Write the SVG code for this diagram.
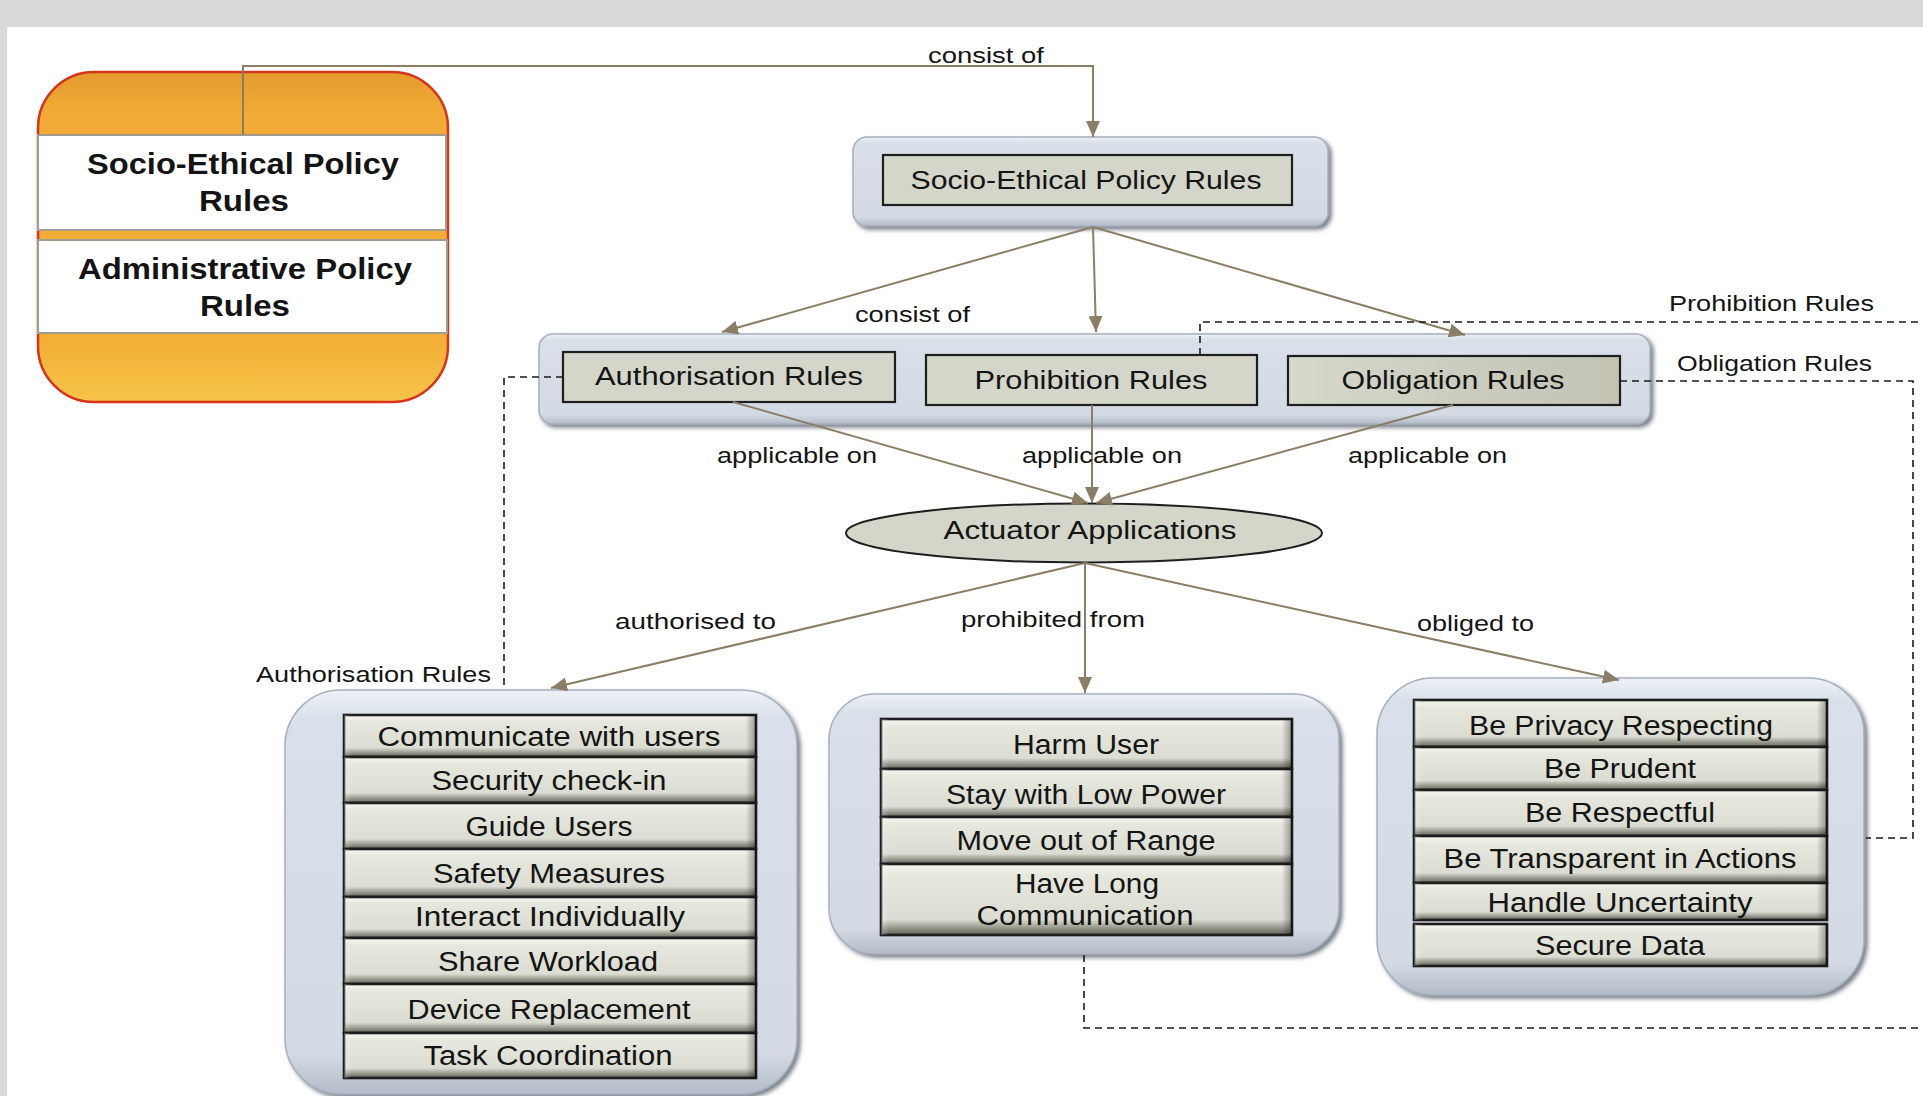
<svg xmlns="http://www.w3.org/2000/svg" width="1923" height="1096" viewBox="0 0 1923 1096">
<defs>
<style>
.t{font-family:"Liberation Sans",Arial,Helvetica,sans-serif;fill:#141414}
.row{font-size:27px;text-anchor:middle}
.ttl{font-size:26px;text-anchor:middle}
.lbl{font-size:22px}
.leg{font-size:29px;font-weight:bold;text-anchor:middle}
.box{fill:url(#boxG);stroke:#a7b0bd;stroke-width:1.5;filter:url(#sh)}
.inner{fill:#d4d6ca;stroke:#1e1e1e;stroke-width:2.2}
.r{fill:url(#rowV);stroke:#1c1c1c;stroke-width:2.6}
.rh{fill:url(#rowH);stroke:none}
.con{fill:none;stroke:#8b7e66;stroke-width:2;marker-end:url(#ah)}
.dash{fill:none;stroke:#1a1a1a;stroke-width:1.6;stroke-dasharray:7 5}
</style>
<marker id="ah" markerUnits="userSpaceOnUse" markerWidth="16" markerHeight="14" refX="16" refY="7" orient="auto">
<path d="M0,0 L16,7 L0,14 z" fill="#8b7e66"/>
</marker>
<linearGradient id="boxG" x1="0" y1="0" x2="0" y2="1">
<stop offset="0" stop-color="#eef2f7"/>
<stop offset="0.07" stop-color="#d9e0e9"/>
<stop offset="0.9" stop-color="#d3dae4"/>
<stop offset="1" stop-color="#b3bcc8"/>
</linearGradient>
<linearGradient id="rowV" x1="0" y1="0" x2="0" y2="1">
<stop offset="0" stop-color="#f7f7f1"/>
<stop offset="0.16" stop-color="#e6e7dd"/>
<stop offset="0.78" stop-color="#dcddd2"/>
<stop offset="0.88" stop-color="#a2a397"/>
<stop offset="1" stop-color="#5f6057"/>
</linearGradient>
<linearGradient id="rowH" x1="0" y1="0" x2="1" y2="0">
<stop offset="0" stop-color="#ffffff" stop-opacity="0.25"/>
<stop offset="0.02" stop-color="#ffffff" stop-opacity="0"/>
<stop offset="0.975" stop-color="#000000" stop-opacity="0"/>
<stop offset="1" stop-color="#000000" stop-opacity="0.35"/>
</linearGradient>
<linearGradient id="oblG" x1="0" y1="0" x2="1" y2="0">
<stop offset="0" stop-color="#d6d8cc"/>
<stop offset="1" stop-color="#c2c3b3"/>
</linearGradient>
<linearGradient id="orG" x1="0" y1="0" x2="0" y2="1">
<stop offset="0" stop-color="#e39b2e"/>
<stop offset="0.12" stop-color="#f1ab36"/>
<stop offset="0.8" stop-color="#f3ae37"/>
<stop offset="1" stop-color="#f7c449"/>
</linearGradient>
<filter id="sh" x="-5%" y="-5%" width="110%" height="115%">
<feGaussianBlur in="SourceAlpha" stdDeviation="2"/>
<feOffset dx="3" dy="3" result="o"/>
<feFlood flood-color="#4f5866" flood-opacity="0.75"/>
<feComposite in2="o" operator="in"/>
<feMerge><feMergeNode/><feMergeNode in="SourceGraphic"/></feMerge>
</filter>
</defs>

<rect x="0" y="0" width="1923" height="1096" fill="#d9d9d9"/>
<rect x="7" y="27" width="1916" height="1069" fill="#ffffff"/>

<g id="legend">
<rect x="38" y="72" width="410" height="330" rx="56" ry="56" fill="url(#orG)" stroke="#d8341c" stroke-width="2.5"/>
<rect x="38" y="135" width="408" height="95" fill="#ffffff" stroke="#a39d90" stroke-width="2"/>
<rect x="38" y="240" width="409" height="93" fill="#ffffff" stroke="#a39d90" stroke-width="2"/>
<text class="t leg" x="243" y="174" textLength="312" lengthAdjust="spacingAndGlyphs">Socio-Ethical Policy</text>
<text class="t leg" x="244" y="211" textLength="90" lengthAdjust="spacingAndGlyphs">Rules</text>
<text class="t leg" x="245" y="279" textLength="334" lengthAdjust="spacingAndGlyphs">Administrative Policy</text>
<text class="t leg" x="245" y="316" textLength="90" lengthAdjust="spacingAndGlyphs">Rules</text>
</g>

<g id="socio-ethical-policy-rules">
<rect class="box" x="853" y="137" width="475" height="89" rx="14" ry="14"/>
<rect class="inner" x="883" y="155" width="409" height="50"/>
<text class="t ttl" x="1086" y="189" textLength="351" lengthAdjust="spacingAndGlyphs">Socio-Ethical Policy Rules</text>
</g>

<g id="rule-types">
<rect class="box" x="539" y="334" width="1111" height="90" rx="14" ry="14"/>
<g id="authorisation-rules">
<rect class="inner" x="563" y="352" width="332" height="50"/>
<text class="t ttl" x="729" y="385" textLength="268" lengthAdjust="spacingAndGlyphs">Authorisation Rules</text>
</g>
<g id="prohibition-rules">
<rect class="inner" x="926" y="355" width="331" height="50"/>
<text class="t ttl" x="1091" y="389" textLength="233" lengthAdjust="spacingAndGlyphs">Prohibition Rules</text>
</g>
<g id="obligation-rules">
<rect class="inner" x="1288" y="356" width="332" height="49" style="fill:url(#oblG)"/>
<text class="t ttl" x="1453" y="389" textLength="223" lengthAdjust="spacingAndGlyphs">Obligation Rules</text>
</g>
</g>

<g id="actuator-applications">
<ellipse cx="1084" cy="533" rx="238" ry="29.5" fill="#d4d6ca" stroke="#1e1e1e" stroke-width="2"/>
<text class="t ttl" x="1090" y="539" style="font-size:25px" textLength="293" lengthAdjust="spacingAndGlyphs">Actuator Applications</text>
</g>

<g id="authorised-actions">
<rect class="box" x="285" y="690" width="512" height="404" rx="56" ry="56"/>
<rect class="r" x="344" y="715" width="412" height="42"/><rect class="rh" x="344" y="715" width="412" height="42"/>
<rect class="r" x="344" y="757" width="412" height="46"/><rect class="rh" x="344" y="757" width="412" height="46"/>
<rect class="r" x="344" y="803" width="412" height="46"/><rect class="rh" x="344" y="803" width="412" height="46"/>
<rect class="r" x="344" y="849" width="412" height="48"/><rect class="rh" x="344" y="849" width="412" height="48"/>
<rect class="r" x="344" y="897" width="412" height="41"/><rect class="rh" x="344" y="897" width="412" height="41"/>
<rect class="r" x="344" y="938" width="412" height="46"/><rect class="rh" x="344" y="938" width="412" height="46"/>
<rect class="r" x="344" y="984" width="412" height="49"/><rect class="rh" x="344" y="984" width="412" height="49"/>
<rect class="r" x="344" y="1033" width="412" height="45"/><rect class="rh" x="344" y="1033" width="412" height="45"/>
<text class="t row" x="549" y="746" textLength="343" lengthAdjust="spacingAndGlyphs">Communicate with users</text>
<text class="t row" x="549" y="790" textLength="235" lengthAdjust="spacingAndGlyphs">Security check-in</text>
<text class="t row" x="549" y="836" textLength="167" lengthAdjust="spacingAndGlyphs">Guide Users</text>
<text class="t row" x="549" y="883" textLength="232" lengthAdjust="spacingAndGlyphs">Safety Measures</text>
<text class="t row" x="550" y="926" textLength="270" lengthAdjust="spacingAndGlyphs">Interact Individually</text>
<text class="t row" x="548" y="971" textLength="220" lengthAdjust="spacingAndGlyphs">Share Workload</text>
<text class="t row" x="549" y="1019" textLength="283" lengthAdjust="spacingAndGlyphs">Device Replacement</text>
<text class="t row" x="548" y="1065" textLength="249" lengthAdjust="spacingAndGlyphs">Task Coordination</text>
</g>

<g id="prohibited-actions">
<rect class="box" x="829" y="694" width="510" height="260" rx="46" ry="46"/>
<rect class="r" x="881" y="719" width="411" height="50"/><rect class="rh" x="881" y="719" width="411" height="50"/>
<rect class="r" x="881" y="769" width="411" height="48"/><rect class="rh" x="881" y="769" width="411" height="48"/>
<rect class="r" x="881" y="817" width="411" height="47"/><rect class="rh" x="881" y="817" width="411" height="47"/>
<rect class="r" x="881" y="864" width="411" height="71"/><rect class="rh" x="881" y="864" width="411" height="71"/>
<text class="t row" x="1086" y="754" textLength="146" lengthAdjust="spacingAndGlyphs">Harm User</text>
<text class="t row" x="1086" y="804" textLength="280" lengthAdjust="spacingAndGlyphs">Stay with Low Power</text>
<text class="t row" x="1086" y="850" textLength="259" lengthAdjust="spacingAndGlyphs">Move out of Range</text>
<text class="t row" x="1087" y="893" textLength="144" lengthAdjust="spacingAndGlyphs">Have Long</text>
<text class="t row" x="1085" y="925" textLength="217" lengthAdjust="spacingAndGlyphs">Communication</text>
</g>

<g id="obliged-actions">
<rect class="box" x="1377" y="678" width="487" height="317" rx="56" ry="56"/>
<rect class="r" x="1414" y="700" width="413" height="47"/><rect class="rh" x="1414" y="700" width="413" height="47"/>
<rect class="r" x="1414" y="747" width="413" height="43"/><rect class="rh" x="1414" y="747" width="413" height="43"/>
<rect class="r" x="1414" y="790" width="413" height="46"/><rect class="rh" x="1414" y="790" width="413" height="46"/>
<rect class="r" x="1414" y="836" width="413" height="47"/><rect class="rh" x="1414" y="836" width="413" height="47"/>
<rect class="r" x="1414" y="883" width="413" height="37"/><rect class="rh" x="1414" y="883" width="413" height="37"/>
<rect class="r" x="1414" y="924" width="413" height="42"/><rect class="rh" x="1414" y="924" width="413" height="42"/>
<text class="t row" x="1621" y="735" textLength="304" lengthAdjust="spacingAndGlyphs">Be Privacy Respecting</text>
<text class="t row" x="1620" y="778" textLength="152" lengthAdjust="spacingAndGlyphs">Be Prudent</text>
<text class="t row" x="1620" y="822" textLength="190" lengthAdjust="spacingAndGlyphs">Be Respectful</text>
<text class="t row" x="1620" y="868" textLength="353" lengthAdjust="spacingAndGlyphs">Be Transparent in Actions</text>
<text class="t row" x="1620" y="912" textLength="265" lengthAdjust="spacingAndGlyphs">Handle Uncertainty</text>
<text class="t row" x="1620" y="955" textLength="170" lengthAdjust="spacingAndGlyphs">Secure Data</text>
</g>

<g id="connectors">
<polyline class="con" points="243,135 243,66 1093,66 1093,137"/>
<line class="con" x1="1093" y1="227" x2="722" y2="332"/>
<line class="con" x1="1093" y1="227" x2="1096" y2="332"/>
<line class="con" x1="1093" y1="227" x2="1465" y2="335"/>
<line class="con" x1="733" y1="402" x2="1088" y2="503"/>
<line class="con" x1="1092" y1="405" x2="1092" y2="503"/>
<line class="con" x1="1453" y1="405" x2="1096" y2="503"/>
<line class="con" x1="1085" y1="563" x2="551" y2="688"/>
<line class="con" x1="1085" y1="563" x2="1085" y2="693"/>
<line class="con" x1="1085" y1="563" x2="1619" y2="680"/>
<polyline class="dash" points="563,377 504,377 504,688"/>
<polyline class="dash" points="1200,355 1200,322 1923,322"/>
<polyline class="dash" points="1620,381 1913,381 1913,838 1866,838"/>
<polyline class="dash" points="1084,955 1084,1028 1923,1028"/>
</g>

<g id="labels">
<text class="t lbl" x="928" y="63" textLength="116" lengthAdjust="spacingAndGlyphs">consist of</text>
<text class="t lbl" x="855" y="322" textLength="115" lengthAdjust="spacingAndGlyphs">consist of</text>
<text class="t lbl" x="1669" y="311" textLength="205" lengthAdjust="spacingAndGlyphs">Prohibition Rules</text>
<text class="t lbl" x="1677" y="371" textLength="195" lengthAdjust="spacingAndGlyphs">Obligation Rules</text>
<text class="t lbl" x="717" y="463" textLength="160" lengthAdjust="spacingAndGlyphs">applicable on</text>
<text class="t lbl" x="1022" y="463" textLength="160" lengthAdjust="spacingAndGlyphs">applicable on</text>
<text class="t lbl" x="1348" y="463" textLength="159" lengthAdjust="spacingAndGlyphs">applicable on</text>
<text class="t lbl" x="256" y="682" textLength="235" lengthAdjust="spacingAndGlyphs">Authorisation Rules</text>
<text class="t lbl" x="615" y="629" textLength="161" lengthAdjust="spacingAndGlyphs">authorised to</text>
<text class="t lbl" x="961" y="627" textLength="184" lengthAdjust="spacingAndGlyphs">prohibited from</text>
<text class="t lbl" x="1417" y="631" textLength="117" lengthAdjust="spacingAndGlyphs">obliged to</text>
</g>
</svg>
